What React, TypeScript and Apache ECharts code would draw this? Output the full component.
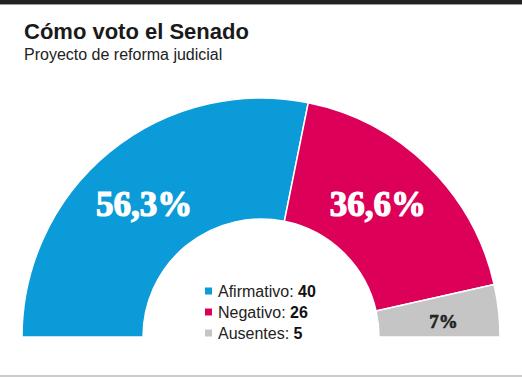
import React, { useEffect, useRef } from "react";
import * as echarts from "echarts";

const categories = ["Afirmativo", "Negativo", "Ausentes"];
const votes = [40, 26, 5];
const percentLabels = ["56,3%", "36,6%", "7%"];
const colors = ["#0b9bd8", "#dd0058", "#c5c5c5"];
const labelColors = ["#ffffff", "#ffffff", "#222222"];
const labelSizes = [35, 35, 19];
const labelShift = [
  [-2, 8],
  [-10, -3],
  [2, 5],
];

export default function App() {
  const ref = useRef<HTMLDivElement>(null);
  useEffect(() => {
    document.body.style.margin = "0";
    const chart = echarts.init(ref.current!, null, { renderer: "svg" });
    const data = categories.map((name, i) => ({
      name,
      value: votes[i],
      itemStyle: { color: colors[i] },
      label: {
        color: labelColors[i],
        fontSize: labelSizes[i],
        textBorderColor: labelColors[i],
        textBorderWidth: i < 2 ? 1.2 : 0.6,
      },
    }));
    chart.setOption({
      animation: false,
      backgroundColor: "#ffffff",
      title: {
        text: "Cómo voto el Senado",
        subtext: "Proyecto de reforma judicial",
        left: 19,
        top: 15,
        itemGap: 4,
        textStyle: {
          fontFamily: "Liberation Sans, Arial, sans-serif",
          fontWeight: "bold",
          fontSize: 22,
          color: "#1a1a1a",
        },
        subtextStyle: {
          fontFamily: "Liberation Sans, Arial, sans-serif",
          fontSize: 16,
          color: "#222222",
        },
      },
      legend: {
        orient: "vertical",
        left: 198,
        top: 278,
        icon: "rect",
        itemWidth: 9,
        itemHeight: 9,
        itemGap: 5,
        selectedMode: false,
        data: categories,
        formatter: (name: string) => {
          const i = categories.indexOf(name);
          return `{n|${name}: }{v|${votes[i]}}`;
        },
        textStyle: {
          rich: {
            n: {
              fontFamily: "Liberation Sans, Arial, sans-serif",
              fontSize: 16,
              color: "#222222",
            },
            v: {
              fontFamily: "Liberation Sans, Arial, sans-serif",
              fontSize: 16,
              fontWeight: "bold",
              color: "#111111",
            },
          },
        },
      },
      series: [
        {
          type: "pie",
          center: [261, 337],
          radius: [118, 239],
          startAngle: 180,
          endAngle: 0,
          clockwise: true,
          silent: true,
          itemStyle: { borderColor: "#ffffff", borderWidth: 1.5 },
          label: {
            show: true,
            position: "inside",
            fontFamily: "Liberation Serif, Times New Roman, serif",
            fontWeight: "bold",
            formatter: (p: any) => percentLabels[p.dataIndex],
          },
          labelLayout: (p: any) => ({
            dx: labelShift[p.dataIndex][0],
            dy: labelShift[p.dataIndex][1],
          }),
          labelLine: { show: false },
          data,
        },
      ],
      graphic: [
        {
          type: "rect",
          shape: { x: 0, y: 0, width: 522, height: 4 },
          style: { fill: "#222222" },
        },
        {
          type: "rect",
          shape: { x: 0, y: 4, width: 522, height: 1 },
          style: { fill: "#9a9a9a" },
        },
        {
          type: "rect",
          shape: { x: 0, y: 375, width: 522, height: 2 },
          style: { fill: "#cccccc" },
        },
      ],
    });
    return () => chart.dispose();
  }, []);
  return <div ref={ref} style={{ width: 522, height: 377 }} />;
}
